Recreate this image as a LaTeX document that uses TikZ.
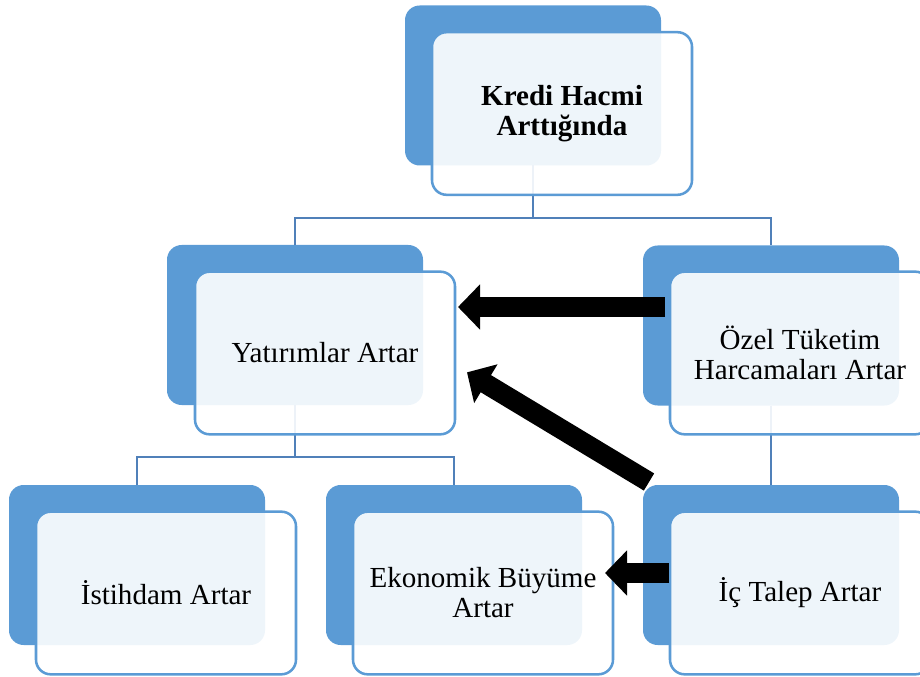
\documentclass[tikz,border=0pt]{standalone}
\usepackage{fontspec}
\setmainfont{Liberation Serif}
\usetikzlibrary{arrows.meta}
\definecolor{boxblue}{RGB}{91,155,213}
\definecolor{lineblue}{RGB}{80,128,185}

\begin{document}
\begin{tikzpicture}[x=0.75pt, y=-0.75pt,
    back/.style={fill=boxblue, rounded corners=11pt, minimum width=192pt,
        minimum height=120pt, inner sep=0pt, outer sep=0pt},
    front/.style={draw=boxblue, line width=1.9pt, fill=white, fill opacity=0.9,
        text opacity=1, rounded corners=11pt, minimum width=195pt,
        minimum height=122pt, inner sep=0pt, outer sep=0pt, align=center,
        font=\fontsize{21.8}{22.5}\selectfont},
    conn/.style={draw=lineblue, line width=2.2pt},
    bigarrow/.style={line width=15pt, -{Triangle[length=16.5pt, width=33pt]}}]
        \useasboundingbox (0,0) rectangle (920,677);
        % back boxes
        \node[back] (kredi-b) at (533,85.5) {};
        \node[back] (yatirim-b) at (295,325) {};
        \node[back] (ozel-b) at (771,325.5) {};
        \node[back] (istihdam-b) at (137,565) {};
        \node[back] (buyume-b) at (454,565) {};
        \node[back] (talep-b) at (771,565) {};
        % tree lines
        \coordinate (top-bus) at (533,218);
        \coordinate (left-bus) at (295,457);
        \draw[conn] (kredi-b.south) -- (top-bus);
        \draw[conn] (yatirim-b.north) |- (top-bus) -| (ozel-b.north);
        \draw[conn] (yatirim-b.south) -- (left-bus);
        \draw[conn] (istihdam-b.north) |- (left-bus) -| (buyume-b.north);
        \draw[conn] (ozel-b.south) -- (talep-b.north);
        % front boxes
        \node[front] (kredi) at (562,113.5) {\textbf{Kredi Hacmi}\\\textbf{Arttığında}};
        \node[front] (yatirim) at (325,353) {Yatırımlar Artar};
        \node[front] (ozel) at (800,353) {Özel Tüketim\\Harcamaları Artar};
        \node[front] (istihdam) at (166,593) {İstihdam Artar};
        \node[front] (buyume) at (483,593) {Ekonomik Büyüme\\Artar};
        \node[front] (talep) at (800,593) {İç Talep Artar};
        % arrows
        \draw[bigarrow] ([shift={(-5,-46)}]ozel.west) -- ([shift={(3,-46)}]yatirim.east);
        \draw[bigarrow] ([shift={(6,-3)}]talep-b.north west) -- ([shift={(12,-62)}]yatirim.south east);
        \draw[bigarrow] ([shift={(-1,-20)}]talep.west) -- ([shift={(-8,-20)}]buyume.east);
\end{tikzpicture}
\end{document}
